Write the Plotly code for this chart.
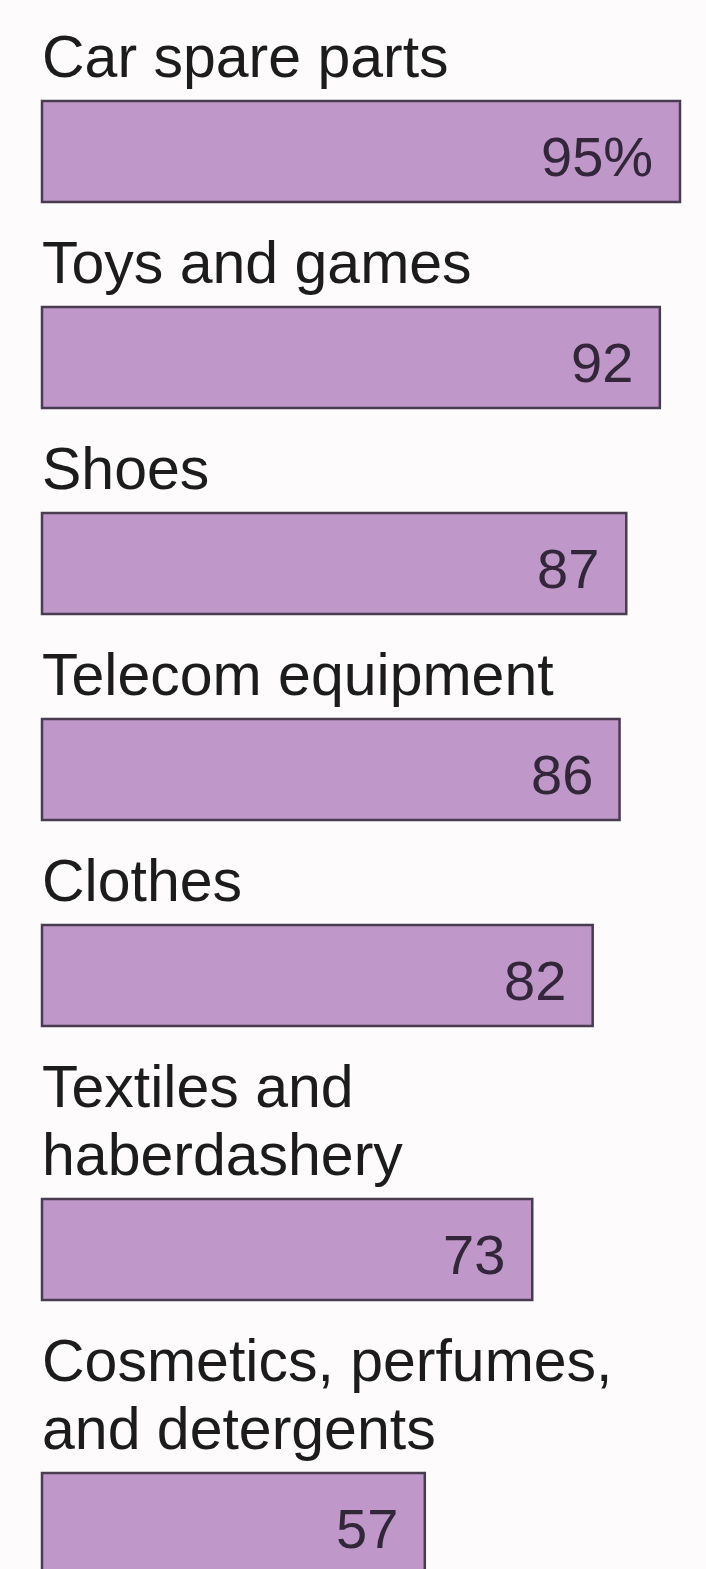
import plotly.graph_objects as go

# Share of counterfeit goods seized, by product category
categories = [
    "Car spare parts",
    "Toys and games",
    "Shoes",
    "Telecom equipment",
    "Clothes",
    "Textiles and<br>haberdashery",
    "Cosmetics, perfumes,<br>and detergents",
]
values = [95, 92, 87, 86, 82, 73, 57]
value_labels = ["95%", "92", "87", "86", "82", "73", "57"]

W, H = 706, 1569
LEFT_PX = 42
PX_PER_UNIT = (680 - LEFT_PX) / 95.0

LINE_STEP = 68      # distance between label lines
LABEL_OFFSET = 59   # previous bar bottom -> first label line centre
BAR_GAP = 46        # last label line centre -> bar top
BAR_H = 101

bar_centers = []
label_lines = []    # (text, y centre)
cursor = -4
for cat in categories:
    lines = cat.split("<br>")
    y = cursor + LABEL_OFFSET
    for i, ln in enumerate(lines):
        label_lines.append((ln, y + i * LINE_STEP))
    top = y + (len(lines) - 1) * LINE_STEP + BAR_GAP
    bar_centers.append(top + BAR_H / 2)
    cursor = top + BAR_H

fig = go.Figure(
    go.Bar(
        x=values,
        y=bar_centers,
        orientation="h",
        width=BAR_H,
        marker=dict(color="#BF98C9", line=dict(color="#4A3C50", width=2.5)),
        hoverinfo="skip",
    )
)

annotations = []
for text, yc in label_lines:
    annotations.append(dict(
        x=0, y=yc, xref="x", yref="y", text=text, showarrow=False,
        xanchor="left", yanchor="middle", xshift=-2, yshift=-2,
        font=dict(family="Liberation Sans, Arial, sans-serif", size=59, color="#1c1c1c"),
    ))
for v, lab, yc in zip(values, value_labels, bar_centers):
    annotations.append(dict(
        x=v, y=yc, xref="x", yref="y", text=lab, showarrow=False,
        xanchor="right", yanchor="middle", xshift=-25, yshift=-5,
        font=dict(family="Liberation Sans, Arial, sans-serif", size=56, color="#33263B"),
    ))

fig.update_layout(
    width=W, height=H,
    margin=dict(l=0, r=0, t=0, b=0),
    paper_bgcolor="#FDFBFC",
    plot_bgcolor="#FDFBFC",
    showlegend=False,
    annotations=annotations,
    xaxis=dict(range=[-LEFT_PX / PX_PER_UNIT, (W - LEFT_PX) / PX_PER_UNIT],
               visible=False, fixedrange=True),
    yaxis=dict(range=[H, 0], visible=False, fixedrange=True),
)

fig.write_html("out.html")
